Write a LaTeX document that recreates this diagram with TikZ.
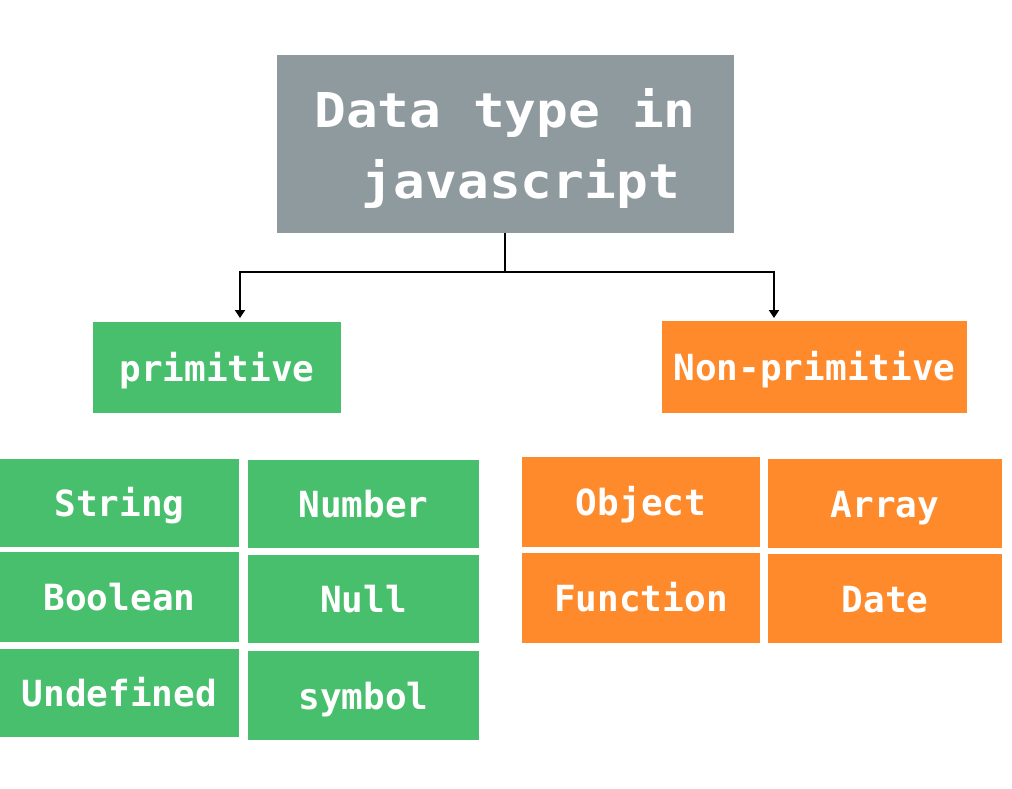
\documentclass[tikz,border=0pt]{standalone}
\usepackage{fontspec}
\usetikzlibrary{arrows.meta}
\newfontfamily\titlemono[FakeStretch=1.1]{DejaVu Sans Mono Bold}
\newfontfamily\boxmono{DejaVu Sans Mono Bold}
\definecolor{titlegray}{HTML}{8E9A9E}
\definecolor{jsgreen}{HTML}{48BF6C}
\definecolor{jsorange}{HTML}{FF8A2B}
\tikzset{
  cell/.style={inner sep=0pt, text=white, text height=27pt, text depth=0pt,
    font={\boxmono\fontsize{36}{40}\selectfont}},
  greencell/.style={cell, fill=jsgreen},
  orangecell/.style={cell, fill=jsorange},
  link/.style={line width=2.2pt, draw=black},
  linkarrow/.style={link, -{Triangle[width=10pt,length=8pt]}}
}
\begin{document}
\begin{tikzpicture}[x=1pt,y=-1pt]
\useasboundingbox (0,0) rectangle (1012,788);
\fill[white] (0,0) rectangle (1012,788);
% title
\node[fill=titlegray, inner sep=0pt, minimum width=457pt, minimum height=178pt]
  (title) at (505,144) {};
\node[inner sep=0pt, text=white, align=center, font={\titlemono\fontsize{48}{71}\selectfont}]
  (titletext) at (505,148) {Data type in\\\hphantom{x}javascript};
% level 2
\node[greencell, minimum width=248pt, minimum height=91pt] (prim) at (217,367.5) {primitive};
\node[orangecell, minimum width=305pt, minimum height=92pt] (nonprim) at (814.5,367) {Non-primitive};
% connectors
\coordinate (j) at (505,272);
\coordinate (pa) at (240,318);
\coordinate (na) at (774,318);
\draw[link] (title.south) -- (j);
\draw[linkarrow] (j) -| (pa);
\draw[linkarrow] (j) -| (na);
% primitive types
\node[greencell, minimum width=239pt, minimum height=88pt] (string) at (119.5,503) {String};
\node[greencell, minimum width=231pt, minimum height=88pt] (number) at (363.5,504) {Number};
\node[greencell, minimum width=239pt, minimum height=90pt] (boolean) at (119.5,597) {Boolean};
\node[greencell, minimum width=231pt, minimum height=88pt] (null) at (363.5,599) {Null};
\node[greencell, minimum width=239pt, minimum height=88pt] (undefined) at (119.5,693) {Undefined};
\node[greencell, minimum width=231pt, minimum height=89pt] (symbol) at (363.5,695.5) {symbol};
% non-primitive types
\node[orangecell, minimum width=238pt, minimum height=90pt] (object) at (641,502) {Object};
\node[orangecell, minimum width=234pt, minimum height=89pt] (array) at (885,503.5) {Array};
\node[orangecell, minimum width=238pt, minimum height=90pt] (function) at (641,598) {Function};
\node[orangecell, minimum width=234pt, minimum height=89pt] (date) at (885,598.5) {Date};
\end{tikzpicture}
\end{document}
